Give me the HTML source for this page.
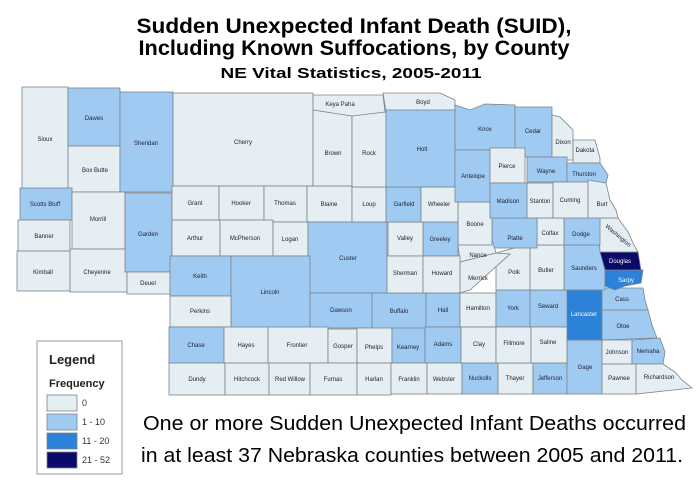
<!DOCTYPE html>
<html><head><meta charset="utf-8"><style>
html,body{margin:0;padding:0;background:#fff;width:699px;height:485px;overflow:hidden}
svg{display:block}
.c0{fill:#e5eef3}.c1{fill:#9fcbf3}.c2{fill:#2c81d8}.c3{fill:#0b0a6b}
rect,polygon{stroke:#7e8388;stroke-width:0.8}
.l{font-family:"Liberation Sans",sans-serif;font-size:6px;fill:#223;text-anchor:middle}
.w{fill:#fff}
</style></head><body>
<svg width="699" height="485" viewBox="0 0 699 485" xmlns="http://www.w3.org/2000/svg">
<g font-family="Liberation Sans, sans-serif" font-weight="bold" text-anchor="middle" fill="#000">
<text x="354" y="33" font-size="21" textLength="435" lengthAdjust="spacingAndGlyphs">Sudden Unexpected Infant Death (SUID),</text>
<text x="354" y="55" font-size="21" textLength="431" lengthAdjust="spacingAndGlyphs">Including Known Suffocations, by County</text>
<text x="351" y="78" font-size="15" textLength="261" lengthAdjust="spacingAndGlyphs">NE Vital Statistics, 2005-2011</text>
</g>
<g>
<rect class="c0" x="22" y="87" width="46" height="103"/>
<rect class="c1" x="68" y="88" width="52" height="58"/>
<rect class="c0" x="68" y="146" width="52" height="46"/>
<rect class="c1" x="120" y="92" width="53" height="100"/>
<rect class="c0" x="173" y="93" width="140" height="93"/>
<rect class="c1" x="20" y="188" width="52" height="32"/>
<rect class="c0" x="18" y="220" width="52" height="31"/>
<rect class="c0" x="17" y="251" width="53" height="40"/>
<rect class="c0" x="72" y="192" width="53" height="57"/>
<rect class="c0" x="70" y="249" width="57" height="43"/>
<rect class="c1" x="125" y="193" width="47" height="79"/>
<rect class="c0" x="127" y="272" width="43" height="22"/>
<rect class="c0" x="172" y="186" width="47" height="34"/>
<rect class="c0" x="219" y="186" width="45" height="34"/>
<rect class="c0" x="264" y="186" width="43" height="36"/>
<rect class="c0" x="307" y="186" width="45" height="36"/>
<rect class="c0" x="172" y="220" width="48" height="36"/>
<rect class="c0" x="220" y="220" width="53" height="36"/>
<rect class="c0" x="273" y="222" width="35" height="34"/>
<rect class="c1" x="308" y="222" width="79" height="71"/>
<rect class="c1" x="170" y="256" width="61" height="40"/>
<rect class="c1" x="231" y="256" width="79" height="72"/>
<rect class="c0" x="170" y="296" width="61" height="31"/>
<rect class="c1" x="310" y="293" width="62" height="35"/>
<rect class="c1" x="372" y="293" width="54" height="36"/>
<rect class="c1" x="426" y="293" width="34" height="34"/>
<rect class="c1" x="169" y="327" width="55" height="36"/>
<rect class="c0" x="224" y="327" width="44" height="36"/>
<rect class="c0" x="268" y="327" width="60" height="36"/>
<rect class="c0" x="328" y="329" width="29" height="34"/>
<rect class="c0" x="357" y="328" width="35" height="35"/>
<rect class="c1" x="392" y="328" width="33" height="35"/>
<rect class="c1" x="425" y="327" width="36" height="36"/>
<rect class="c0" x="169" y="363" width="56" height="32"/>
<rect class="c0" x="225" y="363" width="44" height="32"/>
<rect class="c0" x="269" y="363" width="41" height="32"/>
<rect class="c0" x="310" y="363" width="47" height="32"/>
<rect class="c0" x="357" y="363" width="34" height="32"/>
<rect class="c0" x="391" y="363" width="36" height="31"/>
<rect class="c0" x="427" y="363" width="35" height="31"/>
<rect class="c1" x="462" y="363" width="36" height="31"/>
<rect class="c0" x="498" y="363" width="35" height="31"/>
<rect class="c1" x="533" y="363" width="34" height="31"/>
<rect class="c1" x="567" y="340" width="35" height="54"/>
<rect class="c2" x="567" y="288" width="35" height="52"/>
<rect class="c0" x="460" y="293" width="36" height="34"/>
<rect class="c1" x="496" y="290" width="34" height="37"/>
<rect class="c1" x="530" y="290" width="37" height="37"/>
<rect class="c0" x="461" y="327" width="35" height="36"/>
<rect class="c0" x="496" y="327" width="35" height="36"/>
<rect class="c0" x="531" y="327" width="36" height="36"/>
<rect class="c0" x="602" y="340" width="30" height="24"/>
<polygon class="c1" points="632,340 660,338 665,352 663,364 632,364"/>
<rect class="c0" x="602" y="364" width="34" height="30"/>
<polygon class="c0" points="636,364 663,364 675,372 682,380 692,388 636,394"/>
<polygon class="c1" points="602,310 648,310 652,325 657,338 602,340"/>
<polygon class="c1" points="602,288 643,288 645,300 648,310 602,310"/>
<rect class="c1" x="564" y="245" width="41" height="45"/>
<polygon class="c2" points="605,270 643,270 641,283 625,286 615,290 605,286"/>
<polygon class="c3" points="600,252 638,252 641,270 605,270"/>
<polygon class="c0" points="598,218 618,218 628,232 634,245 638,252 600,252"/>
<rect class="c1" x="564" y="217" width="36" height="28"/>
<rect class="c0" x="530" y="245" width="34" height="45"/>
<polygon class="c0" points="496,253 525,245 530,245 530,290 496,290"/>
<rect class="c0" x="537" y="218" width="27" height="27"/>
<rect class="c1" x="492" y="218" width="45" height="30"/>
<polygon class="c0" points="458,245 492,240 496,253 460,262"/>
<polygon class="c0" points="460,262 496,253 510,254 470,290 460,293"/>
<rect class="c0" x="458" y="202" width="34" height="43"/>
<rect class="c1" x="423" y="222" width="35" height="34"/>
<rect class="c0" x="388" y="222" width="35" height="34"/>
<rect class="c0" x="387" y="256" width="36" height="37"/>
<rect class="c0" x="423" y="256" width="37" height="37"/>
<rect class="c1" x="386" y="187" width="35" height="35"/>
<rect class="c0" x="421" y="187" width="37" height="35"/>
<rect class="c0" x="352" y="187" width="34" height="35"/>
<rect class="c0" x="313" y="110" width="39" height="76"/>
<rect class="c0" x="352" y="112" width="34" height="75"/>
<polygon class="c0" points="313,95 383,95 385,112 352,116 313,110"/>
<polygon class="c0" points="383,93 440,93 455,100 455,110 386,112"/>
<rect class="c1" x="386" y="110" width="69" height="77"/>
<polygon class="c1" points="455,105 470,110 485,104 515,105 515,150 455,150"/>
<rect class="c1" x="515" y="107" width="37" height="50"/>
<polygon class="c0" points="552,115 560,117 573,130 573,160 552,160"/>
<polygon class="c0" points="573,140 595,140 600,158 600,163 573,163"/>
<rect class="c1" x="455" y="150" width="35" height="52"/>
<rect class="c0" x="490" y="148" width="35" height="35"/>
<rect class="c1" x="490" y="183" width="37" height="35"/>
<rect class="c1" x="527" y="157" width="40" height="25"/>
<polygon class="c1" points="567,163 600,163 608,175 606,183 567,183"/>
<rect class="c0" x="527" y="183" width="26" height="35"/>
<rect class="c0" x="553" y="182" width="35" height="36"/>
<polygon class="c0" points="588,180 606,183 610,200 616,210 618,218 588,218"/>
</g>
<g class="l">
<text x="45" y="141">Sioux</text><text x="94" y="120">Dawes</text><text x="95" y="172">Box Butte</text>
<text x="146" y="145">Sheridan</text><text x="243" y="144">Cherry</text><text x="45" y="206">Scotts Bluff</text>
<text x="44" y="238">Banner</text><text x="43" y="274">Kimball</text><text x="98" y="221">Morrill</text>
<text x="97" y="274">Cheyenne</text><text x="148" y="236">Garden</text><text x="148" y="285">Deuel</text>
<text x="195" y="205">Grant</text><text x="241" y="205">Hooker</text><text x="285" y="205">Thomas</text><text x="329" y="206">Blaine</text>
<text x="195" y="240">Arthur</text><text x="245" y="240">McPherson</text><text x="290" y="241">Logan</text>
<text x="348" y="260">Custer</text><text x="200" y="278">Keith</text><text x="270" y="294">Lincoln</text>
<text x="200" y="313">Perkins</text><text x="341" y="312">Dawson</text><text x="399" y="313">Buffalo</text><text x="443" y="312">Hall</text>
<text x="196" y="347">Chase</text><text x="246" y="347">Hayes</text><text x="297" y="347">Frontier</text><text x="343" y="348">Gosper</text>
<text x="374" y="349">Phelps</text><text x="408" y="349">Kearney</text><text x="443" y="346">Adams</text>
<text x="197" y="381">Dundy</text><text x="247" y="381">Hitchcock</text><text x="290" y="381">Red Willow</text><text x="333" y="381">Furnas</text>
<text x="374" y="381">Harlan</text><text x="409" y="381">Franklin</text><text x="444" y="381">Webster</text><text x="480" y="380">Nuckolls</text>
<text x="515" y="380">Thayer</text><text x="550" y="380">Jefferson</text><text x="585" y="369">Gage</text>
<text x="584" y="316" class="l w">Lancaster</text>
<text x="478" y="310">Hamilton</text><text x="513" y="310">York</text><text x="548" y="308">Seward</text>
<text x="479" y="346">Clay</text><text x="514" y="345">Fillmore</text><text x="548" y="344">Saline</text>
<text x="617" y="354">Johnson</text><text x="648" y="353">Nemaha</text><text x="619" y="380">Pawnee</text><text x="659" y="379">Richardson</text>
<text x="623" y="328">Otoe</text><text x="622" y="301">Cass</text><text x="584" y="270">Saunders</text>
<text x="626" y="282" class="l w">Sarpy</text><text x="620" y="263" class="l w">Douglas</text>
<text x="617" y="237" transform="rotate(40 617 237)">Washington</text>
<text x="581" y="236">Dodge</text><text x="546" y="272">Butler</text><text x="514" y="274">Polk</text><text x="550" y="235">Colfax</text>
<text x="515" y="240">Platte</text><text x="478" y="257">Nance</text><text x="478" y="280">Merrick</text><text x="475" y="226">Boone</text>
<text x="440" y="241">Greeley</text><text x="405" y="240">Valley</text><text x="405" y="275">Sherman</text><text x="442" y="275">Howard</text>
<text x="404" y="206">Garfield</text><text x="439" y="206">Wheeler</text><text x="369" y="206">Loup</text>
<text x="333" y="155">Brown</text><text x="369" y="155">Rock</text><text x="340" y="106">Keya Paha</text><text x="423" y="104">Boyd</text>
<text x="422" y="151">Holt</text><text x="485" y="131">Knox</text><text x="533" y="133">Cedar</text><text x="563" y="144">Dixon</text>
<text x="585" y="152">Dakota</text><text x="473" y="178">Antelope</text><text x="507" y="168">Pierce</text><text x="508" y="203">Madison</text>
<text x="546" y="173">Wayne</text><text x="584" y="176">Thurston</text><text x="540" y="203">Stanton</text><text x="570" y="202">Cuming</text><text x="602" y="206">Burt</text>
</g>
<rect x="37" y="341" width="85" height="133" fill="#fff" stroke="#888" stroke-width="1"/>
<g font-family="Liberation Sans, sans-serif" font-weight="bold" fill="#222">
<text x="49" y="364" font-size="13">Legend</text>
<text x="49" y="387" font-size="11">Frequency</text>
</g>
<g font-family="Liberation Sans, sans-serif" font-size="9" fill="#333">
<rect class="c0" x="47" y="395" width="30" height="16" stroke="#7e8388"/><text x="82" y="406">0</text>
<rect class="c1" x="47" y="414" width="30" height="16"/><text x="82" y="425">1 - 10</text>
<rect class="c2" x="47" y="433" width="30" height="16"/><text x="82" y="444">11 - 20</text>
<rect class="c3" x="47" y="452" width="30" height="16"/><text x="82" y="463">21 - 52</text>
</g>
<g font-family="Liberation Sans, sans-serif" font-size="20" fill="#000">
<text x="143" y="430" textLength="543" lengthAdjust="spacingAndGlyphs">One or more Sudden Unexpected Infant Deaths occurred</text>
<text x="141" y="462" textLength="542" lengthAdjust="spacingAndGlyphs">in at least 37 Nebraska counties between 2005 and 2011.</text>
</g>
</svg>
</body></html>
